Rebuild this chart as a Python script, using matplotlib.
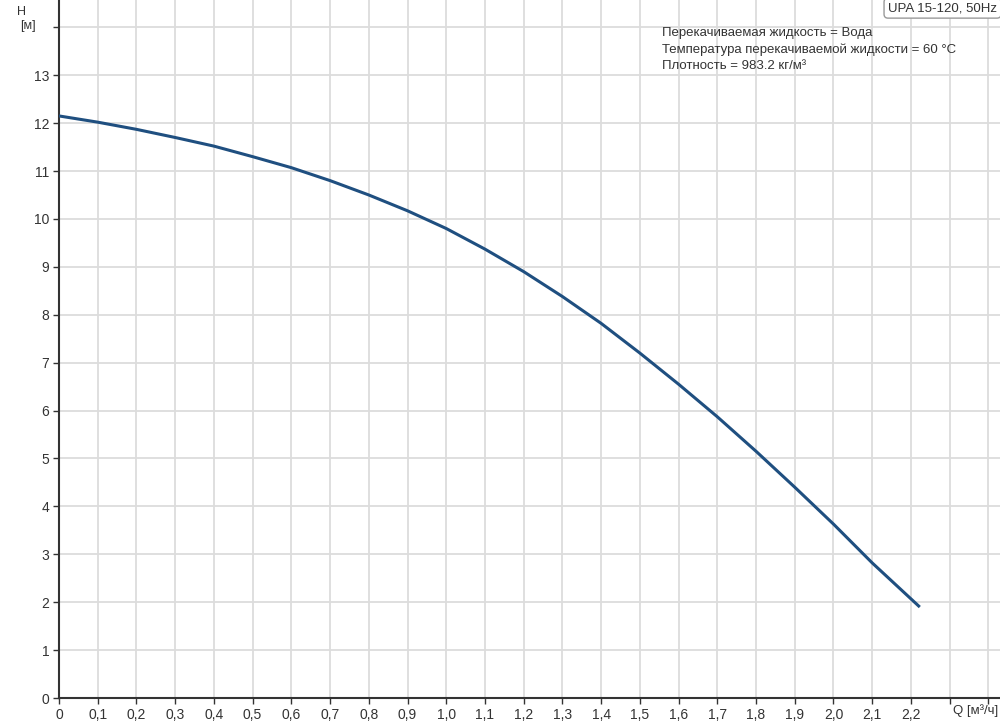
import numpy as np
import matplotlib
matplotlib.use('Agg')
import matplotlib.pyplot as plt

Q = [0.0, 0.1, 0.2, 0.3, 0.4, 0.5, 0.6, 0.7, 0.8, 0.9, 1.0, 1.1,
     1.2, 1.3, 1.4, 1.5, 1.6, 1.7, 1.8, 1.9, 2.0, 2.1, 2.22]
H = [12.15, 12.02, 11.87, 11.70, 11.52, 11.30, 11.07, 10.80, 10.50, 10.17, 9.80, 9.37,
     8.90, 8.38, 7.82, 7.20, 6.55, 5.87, 5.15, 4.40, 3.63, 2.82, 1.92]
X_TICKS = [round(0.1 * i, 1) for i in range(23)]
X_LABELS = ['0'] + [f"{v:.1f}".replace('.', ',') for v in X_TICKS[1:]]
Y_TICKS = list(range(0, 15))
Y_LABELS = [str(v) for v in range(0, 14)] + ['']

TXT = '#333333'
plt.rcParams['font.family'] = ['Liberation Sans', 'DejaVu Sans']

fig = plt.figure(figsize=(10, 7.23), dpi=100)
ax = fig.add_axes([59 / 1000, 25 / 723, 941 / 1000, 698 / 723])
ax.set_xlim(0, 2.43)
ax.set_ylim(0, 14.57)

ax.set_xticks(X_TICKS + [2.3, 2.4])
ax.set_xticklabels(X_LABELS + ['', ''], fontsize=10, color=TXT)
ax.set_yticks(Y_TICKS)
ax.set_yticklabels(Y_LABELS, fontsize=10, color=TXT)
ax.tick_params(length=4, width=1, color='#333333', pad=3)
ax.grid(True, color='#dcdcdc', linewidth=1.3)
ax.set_axisbelow(True)
for s in ['top', 'right']:
    ax.spines[s].set_visible(False)
for s in ['left', 'bottom']:
    ax.spines[s].set_color('#333333')
    ax.spines[s].set_linewidth(1.5)

ax.plot(Q, H, color='#1f4f80', linewidth=2.2, zorder=3, solid_joinstyle='round')

fig.text(0.022, 0.992, 'H', fontsize=9, color=TXT, ha='center', va='top')
fig.text(0.028, 0.972, '[м]', fontsize=9, color=TXT, ha='center', va='top')
fig.text(0.998, 0.008, 'Q [м³/ч]', fontsize=9.5, color=TXT, ha='right', va='bottom')

info = ('Перекачиваемая жидкость = Вода\n'
        'Температура перекачиваемой жидкости = 60 °C\n'
        'Плотность = 983.2 кг/м³')
fig.text(0.662, 0.962, info, fontsize=9.5, color=TXT,
        va='top', ha='left', linespacing=1.45)
fig.text(0.997, 0.997, 'UPA 15-120, 50Hz', fontsize=9.5, color=TXT, ha='right', va='top',
         bbox=dict(boxstyle='round,pad=0.3', facecolor='white', edgecolor='#999999'))

fig.savefig('out.png', dpi=100)
